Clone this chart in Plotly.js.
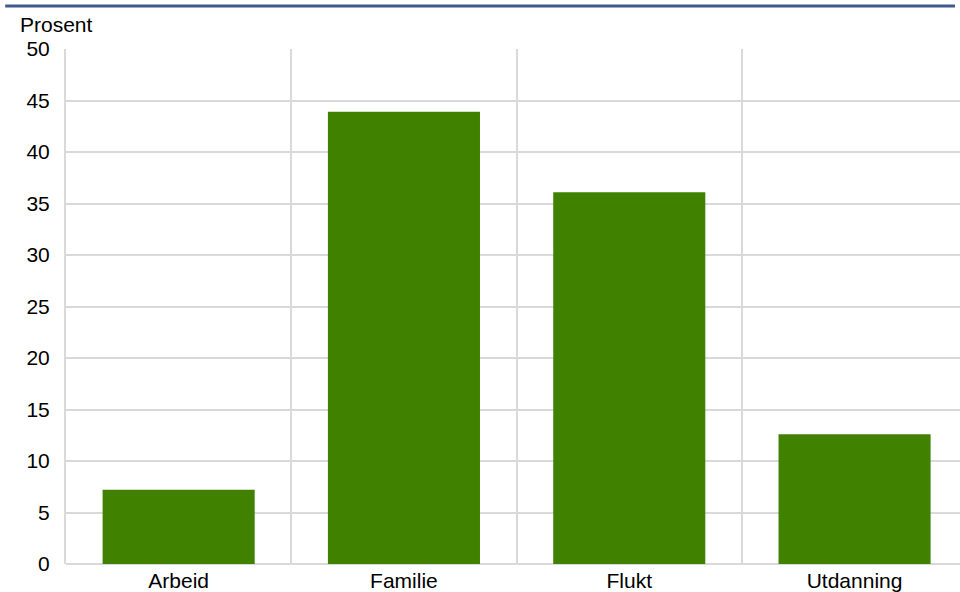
<!DOCTYPE html>
<html>
<head>
<meta charset="utf-8">
<script src="https://cdn.plot.ly/plotly-3.0.1.min.js"></script>
<style>html,body{margin:0;padding:0;background:#fff;overflow:hidden}</style>
</head>
<body>
<div id="chart" style="width:960px;height:592px"></div>
<script>
const categories = ["Arbeid", "Familie", "Flukt", "Utdanning"];
const values = [7.2, 43.9, 36.1, 12.6];
const yTicks = [0, 5, 10, 15, 20, 25, 30, 35, 40, 45, 50];

const font = {family: "Liberation Sans, Arial, sans-serif", size: 21, color: "#000"};

Plotly.newPlot("chart", [{
  type: "bar",
  x: categories,
  y: values,
  marker: {color: "#408200"},
  width: 0.675,
  hoverinfo: "x+y"
}], {
  width: 960, height: 592,
  margin: {l: 66, r: 0, t: 49, b: 28, pad: 0},
  paper_bgcolor: "#fff", plot_bgcolor: "#fff",
  showlegend: false,
  font: font,
  xaxis: {
    type: "category",
    range: [-0.5, 3.468],
    tickson: "boundaries",
    showgrid: true, gridcolor: "#d9d9d9", gridwidth: 2,
    ticks: "", showline: false, zeroline: false,
    ticklabelstandoff: 2,
    tickfont: font, automargin: false
  },
  yaxis: {
    range: [0, 50],
    tickvals: yTicks,
    ticktext: yTicks.map(String),
    showgrid: true, gridcolor: "#d9d9d9", gridwidth: 2,
    showline: true, linecolor: "#d9d9d9", linewidth: 2,
    zeroline: true, zerolinecolor: "#d9d9d9", zerolinewidth: 2,
    ticks: "", ticklabelstandoff: 10,
    tickfont: font, automargin: false, fixedrange: true
  },
  shapes: [{
    type: "line", xref: "paper", yref: "paper",
    x0: -0.068, x1: 0.9944, y0: 1.0835, y1: 1.0835,
    line: {color: "#3d5a8a", width: 3}
  }],
  annotations: [{
    text: "Prosent", xref: "paper", yref: "paper",
    x: -0.0537, y: 1.0485, xanchor: "left", yanchor: "middle",
    showarrow: false, font: font
  }]
}, {displayModeBar: false, staticPlot: true});
</script>
</body>
</html>
